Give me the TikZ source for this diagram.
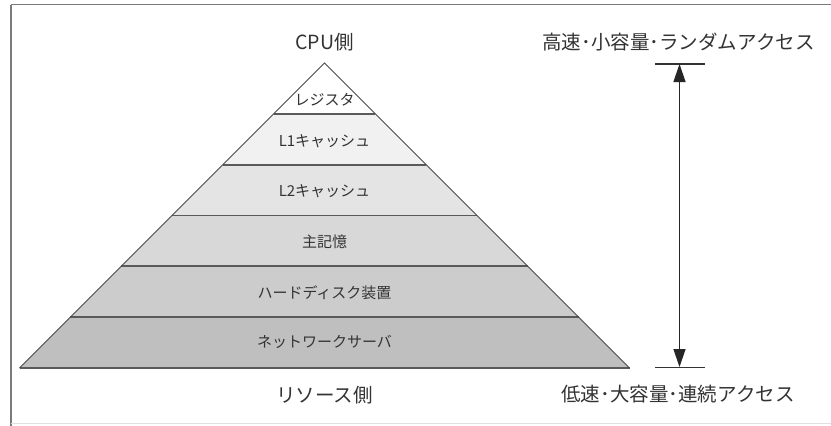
\documentclass[tikz,border=0pt]{standalone}
\usepackage{fontspec}
\setmainfont{Noto Sans CJK JP}
\usetikzlibrary{arrows.meta}
\definecolor{txt}{HTML}{333333}
\definecolor{edge}{HTML}{4A4A4A}
\definecolor{sep}{HTML}{5A5A5A}
\definecolor{frame}{HTML}{7A7A7A}
\definecolor{cA}{HTML}{FFFFFF}
\definecolor{cB}{HTML}{F1F1F1}
\definecolor{cC}{HTML}{E4E4E4}
\definecolor{cD}{HTML}{D8D8D8}
\definecolor{cE}{HTML}{CCCCCC}
\definecolor{cF}{HTML}{BFBFBF}
\tikzset{
  layerlabel/.style={text=txt, font=\fontsize{15}{17}\selectfont, inner sep=0pt},
  sidelabel/.style={text=txt, font=\fontsize{19.5}{21}\selectfont, inner sep=0pt},
  sepline/.style={draw=sep, line width=1.8pt},
  slant/.style={draw=edge, line width=0.9pt},
  tickline/.style={draw=txt, line width=1.8pt},
  spanarrow/.style={draw=black!85, line width=1.3pt, {Triangle[length=18pt,width=12pt]}-{Triangle[length=18pt,width=12pt]}}
}
\begin{document}
\begin{tikzpicture}[x=1pt,y=-1pt]
\useasboundingbox (0,0) rectangle (831,426);
\fill[white] (0,0) rectangle (831,426);
% frame
\draw[frame, line width=1.5pt] (11,4.5) -- (831,4.5);
\draw[frame, line width=1.5pt] (11,4.5) -- (11,426);
\draw[black!12, line width=1pt] (11,423.5) -- (831,423.5);
% pyramid layers
\def\cx{324.5}
\foreach \t/\b/\c in {63/113.8/cA, 113.8/164.7/cB, 164.7/215.5/cC, 215.5/266.3/cD, 266.3/317.2/cE, 317.2/368/cF}{
  \fill[\c] ({\cx-(\t-63)},\t) -- ({\cx+(\t-63)},\t) -- ({\cx+(\b-63)},\b) -- ({\cx-(\b-63)},\b) -- cycle;
}
\foreach \y in {113.8,164.7,215.5,266.3,317.2,368}{
  \draw[sepline] ({\cx-(\y-63)},\y) -- ({\cx+(\y-63)},\y);
}
\draw[slant] ({\cx-305},368) -- (\cx,63) -- ({\cx+305},368);
% layer labels
\node[layerlabel] (reg) at (\cx,99.5) {レジスタ};
\node[layerlabel] (l1) at (\cx,141) {L1キャッシュ};
\node[layerlabel] (l2) at (\cx,191) {L2キャッシュ};
\node[layerlabel] (mem) at (\cx,242) {主記憶};
\node[layerlabel] (hdd) at (\cx,292.5) {ハードディスク装置};
\node[layerlabel] (net) at (\cx,341.5) {ネットワークサーバ};
% side labels
\node[sidelabel] (cpu) at (\cx,42) {CPU側};
\node[sidelabel] (res) at (\cx,395) {リソース側};
\node[sidelabel] (fast) at (678.5,42) {高速･小容量･ランダムアクセス};
\node[sidelabel] (slow) at (678,394) {低速･大容量･連続アクセス};
% range arrow
\coordinate (top) at (679.5,64);
\coordinate (bot) at (679.5,367);
\draw[tickline] (655,64) -- (705,64);
\draw[tickline] (655,367.5) -- (705,367.5);
\draw[spanarrow] (top) -- (bot);
\end{tikzpicture}
\end{document}
